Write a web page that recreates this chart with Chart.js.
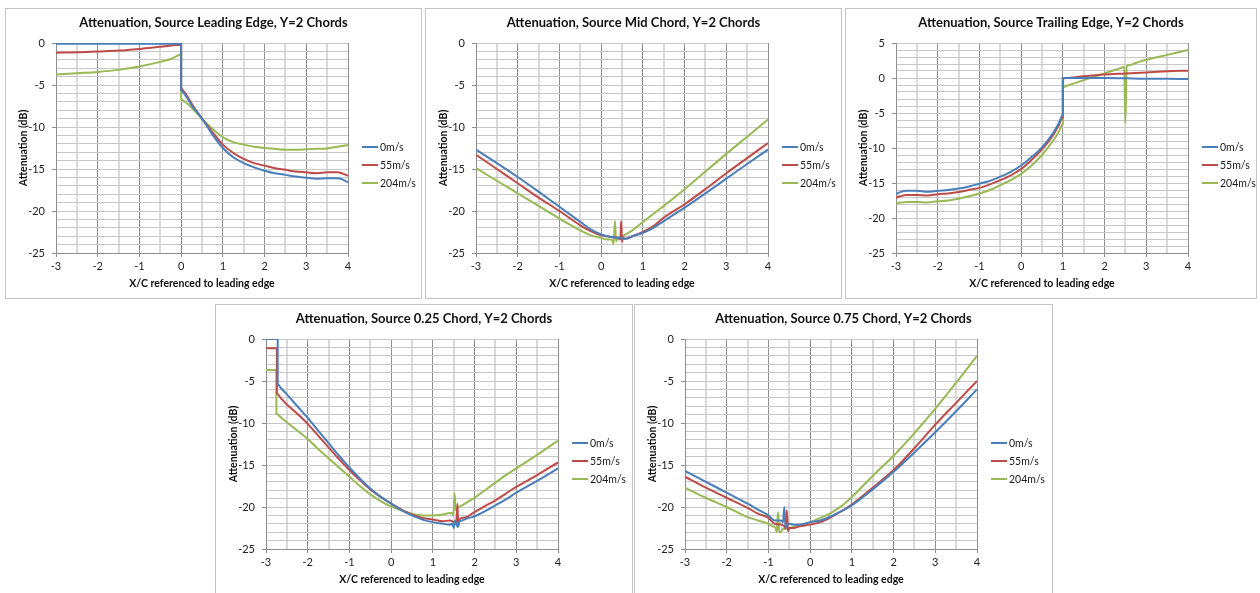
<!DOCTYPE html>
<html><head><meta charset="utf-8">
<script src="https://cdn.jsdelivr.net/npm/chart.js@4.4.1/dist/chart.umd.min.js"></script>
<style>
html,body{margin:0;padding:0;background:#fff}
body{width:1260px;height:593px;overflow:hidden;position:relative;font-family:Lato,"Liberation Sans",sans-serif}
.panel{position:absolute;border:1px solid #c4c4c4;box-sizing:border-box;background:#fff;overflow:hidden}
.panel canvas{position:absolute;left:0;top:0}
.legend{position:absolute;font-size:10.5px;color:#1a1a1a;line-height:18px}
.legend .row{display:flex;align-items:center;height:18px;white-space:nowrap}
.legend .sw{display:inline-block;width:16px;height:2px;margin-right:2px}
</style></head><body>
<script>
// ---------- data ----------
const seriesLabels = ['0m/s', '55m/s', '204m/s'];
const xTickMin = -3, xTickMax = 4;

// Source Leading Edge
const leX_0   = [-3,-2.5,-2,-1.5,-1,-0.5,0,0,0.05,0.1,0.25,0.5,0.75,1,1.25,1.5,1.75,2,2.25,2.5,2.75,3,3.25,3.5,3.75,3.85,4];
const leY_0   = [-0.1,-0.1,-0.1,-0.1,-0.1,-0.1,-0.1,-5.6,-5.9,-6.2,-7.4,-9.0,-10.9,-12.5,-13.6,-14.3,-14.8,-15.2,-15.5,-15.7,-15.9,-16.05,-16.15,-16.1,-16.1,-16.2,-16.6];
const leY_55  = [-1.15,-1.1,-1.0,-0.9,-0.7,-0.45,-0.2,-5.4,-5.7,-6.0,-7.2,-9.0,-10.6,-12.1,-13.1,-13.8,-14.3,-14.6,-14.9,-15.1,-15.3,-15.4,-15.5,-15.4,-15.4,-15.5,-15.8];
const leX_204 = [-3,-2.5,-2,-1.5,-1,-0.5,-0.25,0,0,0.05,0.1,0.25,0.5,0.75,1,1.25,1.5,1.75,2,2.25,2.5,2.75,3,3.25,3.5,3.75,4];
const leY_204 = [-3.75,-3.6,-3.45,-3.2,-2.8,-2.25,-1.9,-1.4,-6.7,-6.85,-7.0,-7.7,-9.0,-10.2,-11.2,-11.8,-12.1,-12.35,-12.5,-12.6,-12.7,-12.7,-12.65,-12.6,-12.55,-12.35,-12.15];

// Source Mid Chord
const mcX_0   = [-3,-2.5,-2,-1.5,-1,-0.5,-0.25,0,0.25,0.5,0.6,0.75,1,1.25,1.5,2,2.5,3,3.5,4];
const mcY_0   = [-12.7,-14.3,-15.95,-17.7,-19.5,-21.3,-22.2,-22.8,-23.1,-23.25,-23.3,-23.0,-22.6,-22.0,-21.2,-19.6,-17.9,-16.15,-14.4,-12.7];
const mcX_55  = [-3,-2.5,-2,-1.5,-1,-0.5,-0.25,0,0.25,0.4,0.46,0.48,0.5,0.52,0.55,0.75,1,1.25,1.5,2,2.5,3,3.5,4];
const mcY_55  = [-13.3,-15.0,-16.7,-18.4,-20.0,-21.7,-22.4,-22.9,-23.1,-23.2,-23.4,-21.2,-23.7,-23.1,-23.3,-23.0,-22.5,-21.8,-20.8,-19.2,-17.4,-15.5,-13.7,-11.9];
const mcX_204 = [-3,-2.5,-2,-1.5,-1,-0.5,-0.25,0,0.15,0.25,0.3,0.33,0.36,0.4,0.5,0.75,1,1.5,2,2.5,3,3.5,4];
const mcY_204 = [-14.9,-16.4,-17.9,-19.4,-20.9,-22.3,-22.9,-23.2,-23.4,-23.4,-23.9,-21.2,-23.6,-23.2,-23.0,-22.3,-21.3,-19.4,-17.4,-15.3,-13.2,-11.15,-9.1];

// Source Trailing Edge
const teX     = [-3,-2.9,-2.75,-2.5,-2.25,-2,-1.75,-1.5,-1.25,-1,-0.75,-0.5,-0.25,0,0.25,0.5,0.75,0.9,1,1,1.1,1.5,2,2.5,3,3.5,4];
const teY_0   = [-16.6,-16.3,-16.1,-16.1,-16.25,-16.1,-16.0,-15.8,-15.5,-15.1,-14.7,-14.1,-13.4,-12.5,-11.3,-9.9,-8.0,-6.5,-5.3,0.0,0.0,0.0,0.0,-0.05,-0.1,-0.1,-0.15];
const teY_55  = [-17.1,-16.9,-16.7,-16.7,-16.8,-16.6,-16.5,-16.3,-16.0,-15.7,-15.2,-14.6,-13.9,-13.0,-11.7,-10.2,-8.3,-6.8,-5.6,-0.05,0.0,0.25,0.5,0.65,0.8,0.95,1.05];
const teX_204 = [-3,-2.9,-2.75,-2.5,-2.25,-2,-1.75,-1.5,-1.25,-1,-0.75,-0.5,-0.25,0,0.25,0.5,0.75,0.9,1,1,1.1,1.5,2,2.4,2.47,2.5,2.53,2.6,2.75,3,3.5,4];
const teY_204 = [-17.9,-17.8,-17.7,-17.7,-17.8,-17.6,-17.5,-17.25,-16.9,-16.5,-16.0,-15.3,-14.6,-13.7,-12.5,-11.0,-9.1,-7.7,-6.6,-1.3,-1.1,-0.3,0.65,1.45,1.58,-6.4,1.7,1.85,2.15,2.6,3.3,4.0];

// Source 0.25 Chord
const q1X_0   = [-3,-2.72,-2.72,-2.65,-2.5,-2.25,-2,-1.75,-1.5,-1.25,-1,-0.75,-0.5,-0.25,0,0.25,0.5,0.75,1,1.25,1.4,1.47,1.5,1.53,1.56,1.6,1.63,1.7,1.8,2,2.25,2.5,2.75,3,3.5,4];
const q1Y_0   = [0,0,-5.4,-5.8,-6.6,-8.0,-9.4,-10.9,-12.4,-13.9,-15.3,-16.6,-17.8,-18.8,-19.6,-20.4,-21.0,-21.5,-21.8,-22.0,-22.1,-22.0,-22.5,-21.6,-22.0,-22.4,-21.8,-21.6,-21.4,-21.1,-20.5,-19.8,-19.1,-18.3,-16.9,-15.4];
const q1X_55  = [-3,-2.74,-2.74,-2.65,-2.5,-2.25,-2,-1.75,-1.5,-1.25,-1,-0.75,-0.5,-0.25,0,0.25,0.5,0.75,1,1.25,1.4,1.5,1.56,1.59,1.61,1.64,1.7,1.8,2,2.25,2.5,2.75,3,3.5,4];
const q1Y_55  = [-1.1,-1.1,-6.5,-7.0,-7.8,-8.9,-10.1,-11.5,-12.9,-14.3,-15.6,-16.8,-17.9,-18.8,-19.6,-20.3,-20.9,-21.3,-21.5,-21.7,-21.6,-21.8,-22.0,-19.6,-22.3,-21.5,-21.3,-21.2,-20.6,-19.9,-19.2,-18.4,-17.6,-16.2,-14.7];
const q1X_204 = [-3,-2.75,-2.75,-2.65,-2.5,-2.25,-2,-1.75,-1.5,-1.25,-1,-0.75,-0.5,-0.25,0,0.25,0.5,0.75,1,1.25,1.4,1.46,1.49,1.52,1.55,1.6,1.7,1.8,2,2.25,2.5,2.75,3,3.5,4];
const q1Y_204 = [-3.7,-3.7,-8.9,-9.3,-9.9,-10.9,-11.9,-13.1,-14.2,-15.3,-16.4,-17.5,-18.5,-19.3,-19.95,-20.4,-20.8,-21.0,-21.0,-20.9,-20.7,-20.7,-21.0,-18.4,-20.4,-20.1,-19.8,-19.5,-18.9,-18.0,-17.1,-16.2,-15.4,-13.8,-12.1];

// Source 0.75 Chord
const q3X_0   = [-3,-2.5,-2,-1.5,-1.25,-1,-0.85,-0.7,-0.65,-0.62,-0.59,-0.55,-0.5,-0.4,-0.25,0,0.25,0.5,0.75,1,1.5,2,2.5,3,3.5,4];
const q3Y_0   = [-15.7,-17.0,-18.3,-19.6,-20.3,-21.0,-21.6,-21.6,-21.8,-20.0,-22.5,-22.1,-22.0,-22.1,-22.1,-21.8,-21.6,-21.1,-20.5,-19.8,-17.9,-15.8,-13.5,-11.1,-8.6,-6.0];
const q3X_55  = [-3,-2.5,-2,-1.5,-1.25,-1,-0.85,-0.7,-0.62,-0.59,-0.56,-0.53,-0.5,-0.4,-0.25,0,0.25,0.5,0.75,1,1.5,2,2.5,3,3.5,4];
const q3Y_55  = [-16.4,-17.7,-18.9,-20.1,-20.8,-21.3,-22.0,-22.1,-22.3,-22.6,-20.4,-22.9,-22.5,-22.5,-22.3,-22.1,-21.8,-21.2,-20.5,-19.7,-17.7,-15.6,-13.0,-10.2,-7.6,-5.0];
const q3X_204 = [-3,-2.5,-2,-1.5,-1.25,-1,-0.9,-0.83,-0.8,-0.77,-0.74,-0.7,-0.66,-0.6,-0.5,-0.25,0,0.25,0.5,0.75,1,1.5,2,2.5,3,3.5,4];
const q3Y_204 = [-17.7,-18.9,-20.0,-21.2,-21.6,-22.0,-22.3,-22.5,-23.0,-20.6,-22.9,-23.0,-22.6,-22.6,-22.5,-22.2,-21.8,-21.3,-20.7,-19.9,-18.8,-16.3,-13.9,-11.2,-8.3,-5.2,-2.0];

// ---------- styling / layout ----------
const COLORS = ['#4a7ebb', '#be4b48', '#98b954'];
const FONT = 'Lato, "Liberation Sans", sans-serif';
Chart.defaults.font.family = FONT;

const panels = [
  {title:'Attenuation, Source Leading Edge, Y=2 Chords', yMin:-25, yMax:0,
   series:[[leX_0,leY_0],[leX_0,leY_55],[leX_204,leY_204]], box:{left:5,top:8,width:417,height:291}},
  {title:'Attenuation, Source Mid Chord, Y=2 Chords', yMin:-25, yMax:0,
   series:[[mcX_0,mcY_0],[mcX_55,mcY_55],[mcX_204,mcY_204]], box:{left:425,top:8,width:417,height:291}},
  {title:'Attenuation, Source Trailing Edge, Y=2 Chords', yMin:-25, yMax:5,
   series:[[teX,teY_0],[teX,teY_55],[teX_204,teY_204]], box:{left:845,top:8,width:412,height:291}},
  {title:'Attenuation, Source 0.25 Chord, Y=2 Chords', yMin:-25, yMax:0,
   series:[[q1X_0,q1Y_0],[q1X_55,q1Y_55],[q1X_204,q1Y_204]], box:{left:215,top:304,width:418,height:300}},
  {title:'Attenuation, Source 0.75 Chord, Y=2 Chords', yMin:-25, yMax:0,
   series:[[q3X_0,q3Y_0],[q3X_55,q3Y_55],[q3X_204,q3Y_204]], box:{left:634,top:304,width:419,height:300}}
];

const AREA_LEFT = 50, AREA_RIGHT = 342, CANVAS_H = 290;

panels.forEach(p => {
  const div = document.createElement('div');
  div.className = 'panel';
  Object.assign(div.style, {left:p.box.left+'px', top:p.box.top+'px', width:p.box.width+'px', height:p.box.height+'px'});
  document.body.appendChild(div);
  const cw = p.box.width - 2;
  const canvas = document.createElement('canvas');
  canvas.width = cw; canvas.height = CANVAS_H;
  div.appendChild(canvas);

  const chart = new Chart(canvas, {
    type: 'line',
    data: {
      datasets: p.series.map((s, i) => ({
        label: seriesLabels[i],
        data: s[0].map((x, j) => ({x: x, y: s[1][j]})),
        borderColor: COLORS[i], backgroundColor: COLORS[i],
        borderWidth: 2, pointRadius: 0, pointHoverRadius: 0,
        cubicInterpolationMode: 'monotone', fill: false
      }))
    },
    options: {
      responsive: false, animation: false, events: [],
      layout: {padding: {left: 0, right: 0, top: 0, bottom: 1}},
      plugins: {
        legend: {display: false},
        tooltip: {enabled: false},
        title: {display: true, text: p.title, color: '#111',
                font: {size: 13, weight: 'bold', lineHeight: '16px'},
                padding: {top: 6, bottom: 12}}
      },
      scales: {
        x: {
          type: 'linear', min: xTickMin, max: xTickMax,
          afterFit: s => { s.height = 45; },
          ticks: {stepSize: 0.5, autoSkip: false, maxRotation: 0, padding: 3, color: '#222',
                  font: {size: 11}, callback: v => Number.isInteger(v) ? String(v) : ''},
          grid: {
            color: c => (c.tick && Number.isInteger(c.tick.value)) ? '#8e8e8e' : '#dadada',
            lineWidth: c => (c.tick && Number.isInteger(c.tick.value)) ? 1 : 2,
            tickLength: 4,
            tickColor: c => (c.tick && Number.isInteger(c.tick.value)) ? '#8e8e8e' : 'rgba(0,0,0,0)'
          },
          border: {color: '#8e8e8e'},
          title: {display: true, text: 'X/C referenced to leading edge', color: '#111',
                  font: {size: 10.5, weight: 'bold'}, padding: {top: 0, bottom: 8}}
        },
        y: {
          min: p.yMin, max: p.yMax,
          afterFit: s => { s.width = AREA_LEFT; },
          ticks: {stepSize: 1, autoSkip: false, maxTicksLimit: 100, padding: 7, color: '#222',
                  font: {size: 11}, callback: v => (v % 5 === 0) ? String(v) : ''},
          grid: {
            color: '#c8c8c8', lineWidth: 1, tickLength: 4,
            tickColor: c => (c.tick && c.tick.value % 5 === 0) ? '#8e8e8e' : 'rgba(0,0,0,0)'
          },
          border: {color: '#8e8e8e'},
          title: {display: true, text: 'Attenuation (dB)', color: '#111',
                  font: {size: 10.5, weight: 'bold'}, padding: {top: 11, bottom: 0}}
        },
        // empty right-hand axis that only reserves the space where the legend sits
        legendSpace: {
          type: 'linear', position: 'right', display: true,
          afterFit: s => { s.width = cw - AREA_RIGHT; },
          ticks: {display: false}, grid: {display: false, drawTicks: false},
          border: {display: false}, title: {display: false}
        }
      }
    }
  });

  // legend built from the chart's datasets
  const lg = document.createElement('div');
  lg.className = 'legend';
  lg.style.left = (AREA_RIGHT + 14) + 'px';
  lg.style.top = '129px';
  chart.data.datasets.forEach(ds => {
    const row = document.createElement('div'); row.className = 'row';
    const sw = document.createElement('span'); sw.className = 'sw'; sw.style.background = ds.borderColor;
    const tx = document.createElement('span'); tx.textContent = ds.label;
    row.appendChild(sw); row.appendChild(tx); lg.appendChild(row);
  });
  div.appendChild(lg);
});
</script>
</body></html>
